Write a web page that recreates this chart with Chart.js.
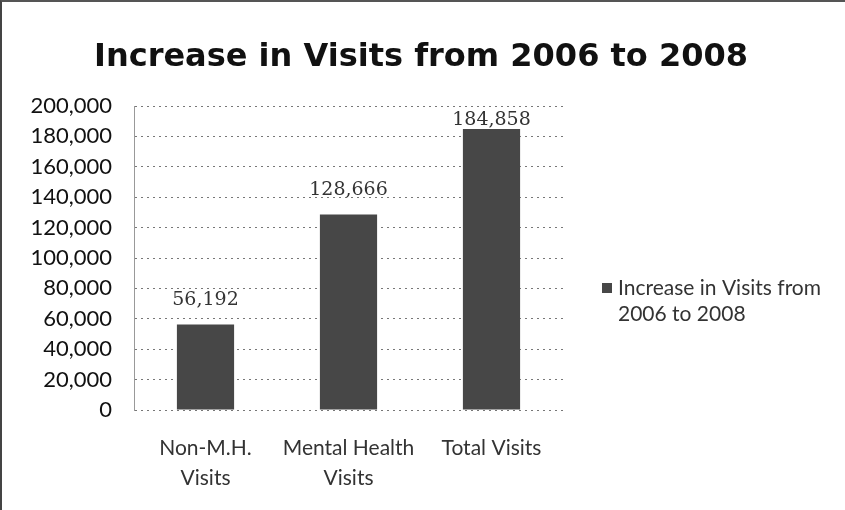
<!DOCTYPE html>
<html>
<head>
<meta charset="utf-8">
<script src="https://cdn.jsdelivr.net/npm/chart.js@4/dist/chart.umd.min.js"></script>
<style>
  html, body { margin: 0; padding: 0; background: #fff; overflow: hidden; }
  #wrap { position: relative; width: 845px; height: 510px; box-sizing: border-box;
          border-left: 2px solid #444; border-top: 2px solid #555; }
  canvas { display: block; }
</style>
</head>
<body>
<div id="wrap"><canvas id="chart" width="843" height="508"></canvas></div>
<script>
const categories = [['Non-M.H.', 'Visits'], ['Mental Health', 'Visits'], 'Total Visits'];
const increases = [56192, 128666, 184858];
const seriesName = 'Increase in Visits from 2006 to 2008';
const legendLines = ['Increase in Visits from', '2006 to 2008'];
const chartTitle = 'Increase in Visits from 2006 to 2008';

const barColor = '#474747';
const fontFamily = 'Lato, "Open Sans", sans-serif';

// title centred on the whole canvas
const pageTitle = {
  id: 'pageTitle',
  afterDraw(chart) {
    const ctx = chart.ctx;
    ctx.save();
    ctx.fillStyle = '#111';
    ctx.font = 'bold 32px "DejaVu Sans", sans-serif';
    ctx.textAlign = 'center';
    ctx.textBaseline = 'alphabetic';
    ctx.fillText(chartTitle, 419, 64);
    ctx.restore();
  }
};

// value labels above the bars (kept inside the plot area like Excel does)
const valueLabels = {
  id: 'valueLabels',
  afterDatasetsDraw(chart) {
    const ctx = chart.ctx;
    const meta = chart.getDatasetMeta(0);
    ctx.save();
    ctx.fillStyle = '#333';
    ctx.font = '19px "DejaVu Serif", serif';
    ctx.textAlign = 'center';
    ctx.textBaseline = 'bottom';
    meta.data.forEach((bar, i) => {
      const y = Math.max(bar.y - 15, chart.chartArea.top + 24);
      ctx.fillText(increases[i].toLocaleString('en-US'), bar.x, y);
    });
    ctx.restore();
  }
};

// legend on the right, wrapped on two lines
const sideLegend = {
  id: 'sideLegend',
  afterDraw(chart) {
    const ctx = chart.ctx;
    const x = chart.chartArea.right + 39;
    const y = 286;
    ctx.save();
    ctx.fillStyle = barColor;
    ctx.fillRect(x, y - 5, 10, 10);
    ctx.fillStyle = '#333';
    ctx.font = '21px ' + fontFamily;
    ctx.textBaseline = 'middle';
    ctx.fillText(legendLines[0], x + 16, y);
    ctx.fillText(legendLines[1], x + 16, y + 26);
    ctx.restore();
  }
};

new Chart(document.getElementById('chart'), {
  type: 'bar',
  data: {
    labels: categories,
    datasets: [{
      label: seriesName,
      data: increases,
      backgroundColor: barColor,
      categoryPercentage: 1,
      barPercentage: 0.4
    }]
  },
  options: {
    responsive: false,
    animation: false,
    layout: { padding: { left: 10, right: 282, top: 104, bottom: 20 } },
    plugins: {
      legend: { display: false },
      tooltip: { enabled: false },
      title: { display: false }
    },
    scales: {
      x: {
        grid: { display: false },
        border: { display: false },
        afterFit(scale) { scale.height = 80; },
        ticks: {
          color: '#333',
          font: { family: fontFamily, size: 21, lineHeight: 1.4 },
          maxRotation: 0,
          padding: 16
        }
      },
      y: {
        min: 0,
        max: 200000,
        afterFit(scale) { scale.width = 122; },
        ticks: {
          stepSize: 20000,
          color: '#111',
          padding: 22,
          font: { family: fontFamily, size: 22 },
          callback: v => v.toLocaleString('en-US')
        },
        grid: { color: '#777', lineWidth: 1, drawTicks: false },
        border: { display: true, dash: [2, 4], color: '#999' }
      }
    }
  },
  plugins: [pageTitle, valueLabels, sideLegend]
});
</script>
</body>
</html>
